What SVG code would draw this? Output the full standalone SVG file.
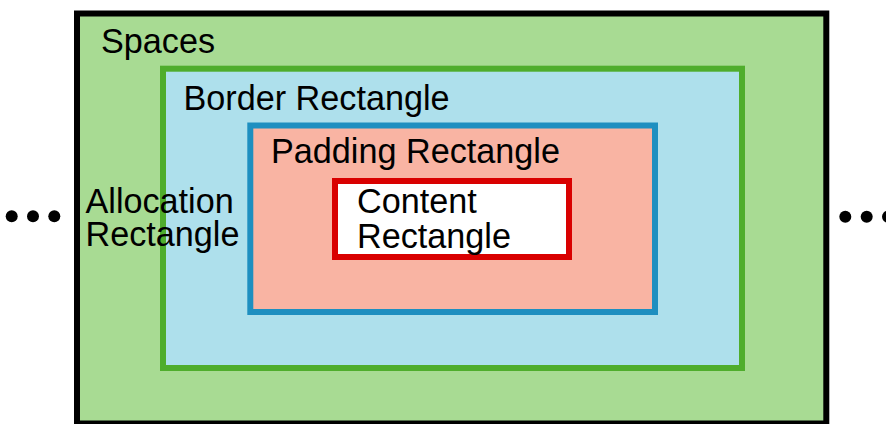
<svg xmlns="http://www.w3.org/2000/svg" width="886" height="424" viewBox="0 0 886 424">
<style>
text{font-family:"Liberation Sans",Arial,Helvetica,sans-serif;font-size:34.2px;fill:#000}
.box{stroke-width:6}
</style>
<rect width="886" height="424" fill="#fff"/>
<g id="spaces">
<rect class="box" x="77" y="13.5" width="749.3" height="410" fill="#a8db93" stroke="#000"/>
<text x="101" y="52.5">Spaces</text>
</g>
<g id="border">
<rect class="box" x="163" y="68.7" width="579" height="299.3" fill="#aee0ec" stroke="#4fad2c"/>
<text x="183.5" y="110">Border Rectangle</text>
</g>
<g id="padding">
<rect class="box" x="250.3" y="125.5" width="404.7" height="186.5" fill="#f9b4a3" stroke="#1e8fc0"/>
<text x="271" y="163.3">Padding Rectangle</text>
</g>
<g id="content">
<rect class="box" x="335" y="181" width="234" height="76" fill="#fff" stroke="#d90000"/>
<text x="357" y="213.3">Content</text>
<text x="357" y="247.5">Rectangle</text>
</g>
<g id="allocation">
<text x="85.5" y="212.7">Allocation</text>
<text x="85.5" y="246">Rectangle</text>
</g>
<g id="connectors">
<circle cx="11.7" cy="216.3" r="6"/>
<circle cx="33" cy="216.3" r="6"/>
<circle cx="54.3" cy="216.3" r="6"/>
<circle cx="845.3" cy="216.7" r="6"/>
<circle cx="866.7" cy="216.7" r="6"/>
<circle cx="888" cy="216.7" r="6"/>
</g>
</svg>
